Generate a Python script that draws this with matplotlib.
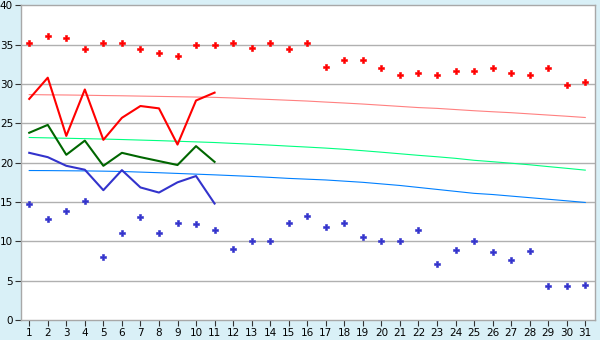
import matplotlib
matplotlib.use("Agg")
import matplotlib.pyplot as plt

days = list(range(1, 32))

record_max = [35.2, 36.15, 35.9, 34.4, 35.2, 35.2, 34.4, 34.0, 33.5, 34.9, 34.9,
              35.2, 34.6, 35.2, 34.5, 35.25, 32.2, 33.0, 33.0, 32.0, 31.1, 31.45,
              31.1, 31.7, 31.6, 32.0, 31.45, 31.1, 32.0, 29.9, 30.3]
record_min = [14.8, 12.8, 13.8, 15.07, 7.96, 11.0, 13.04, 11.1, 12.3, 12.15, 11.4,
              8.98, 10.0, 10.0, 12.3, 13.2, 11.8, 12.3, 10.6, 10.0, 10.0, 11.4,
              7.07, 8.85, 10.0, 8.6, 7.58, 8.72, 4.28, 4.28, 4.4]

normal_max = [28.65, 28.62, 28.6, 28.57, 28.53, 28.5, 28.46, 28.42, 28.38, 28.34, 28.3,
              28.22, 28.12, 28.03, 27.93, 27.83, 27.7, 27.58, 27.45, 27.3, 27.15, 27.0,
              26.9, 26.75, 26.6, 26.47, 26.35, 26.2, 26.05, 25.9, 25.74]
normal_mean = [23.2, 23.15, 23.1, 23.05, 23.0, 22.94, 22.87, 22.8, 22.72, 22.64, 22.56,
               22.45, 22.35, 22.23, 22.1, 21.98, 21.85, 21.7, 21.52, 21.33, 21.13, 20.93,
               20.75, 20.55, 20.3, 20.12, 19.93, 19.73, 19.5, 19.28, 19.05]
normal_min = [19.0, 18.99, 18.97, 18.95, 18.92, 18.88, 18.8, 18.72, 18.63, 18.54, 18.45,
              18.35, 18.25, 18.13, 18.0, 17.9, 17.8, 17.65, 17.5, 17.3, 17.1, 16.85,
              16.6, 16.35, 16.1, 15.95, 15.75, 15.55, 15.35, 15.15, 14.94]

obs_days = list(range(1, 12))
obs_max = [28.1, 30.8, 23.4, 29.3, 22.9, 25.7, 27.2, 26.9, 22.3, 27.9, 28.9]
obs_mean = [23.8, 24.8, 21.0, 22.8, 19.6, 21.25, 20.7, 20.2, 19.7, 22.1, 20.1]
obs_min = [21.25, 20.7, 19.6, 19.1, 16.5, 19.05, 16.85, 16.2, 17.5, 18.3, 14.8]

y_ticks = [0, 5, 10, 15, 20, 25, 30, 35, 40]

fig = plt.figure(figsize=(6, 3.4), dpi=100, facecolor="#D9F0F7")
ax = fig.add_axes([0.0345, 0.0588, 0.957, 0.9256])
ax.set_facecolor("white")

for v in y_ticks[1:-1]:
    ax.axhline(v, color="#B0B0B0", lw=1.0, zorder=1)

ax.plot(days, normal_max, color="#FF8080", lw=0.8, zorder=2)
ax.plot(days, normal_mean, color="#00FF80", lw=0.8, zorder=2)
ax.plot(days, normal_min, color="#0080FF", lw=0.8, zorder=2)

ax.plot(obs_days, obs_max, color="#FF0000", lw=1.5, zorder=3)
ax.plot(obs_days, obs_mean, color="#006600", lw=1.5, zorder=3)
ax.plot(obs_days, obs_min, color="#3333CC", lw=1.5, zorder=3)

ax.plot(days, record_max, linestyle="none", marker="P", ms=4.0,
        color="#FF0000", mec="#FF0000", mew=0.4, zorder=4)
ax.plot(days, record_min, linestyle="none", marker="P", ms=4.0,
        color="#3333CC", mec="#3333CC", mew=0.4, zorder=4)

ax.set_xlim(0.54, 31.52)
ax.set_ylim(0, 40)
ax.set_xticks(days)
ax.set_xticklabels([str(d) for d in days])
ax.set_yticks(y_ticks)
ax.set_yticklabels([str(v) for v in y_ticks])
ax.tick_params(axis="both", direction="out", length=4, width=0.8,
               color="#333333", labelsize=7.5, labelcolor="#000000", pad=1.5)
for s in ax.spines.values():
    s.set_color("#A8A8A8")
    s.set_linewidth(1.0)

fig.savefig("out.png", dpi=100, facecolor=fig.get_facecolor())
